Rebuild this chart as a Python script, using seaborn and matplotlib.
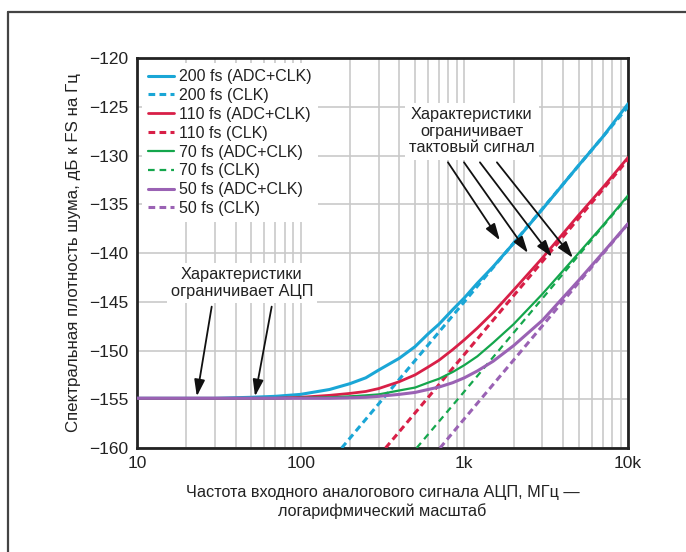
import numpy as np
import pandas as pd
import matplotlib
matplotlib.use('Agg')
import matplotlib.pyplot as plt
import seaborn as sns
from matplotlib.lines import Line2D
from matplotlib.ticker import FixedLocator, NullFormatter

# --- data (MHz, dBFS/Hz) ---
freq = [10, 20, 30, 50, 70, 100, 150, 200, 250, 300, 400, 500, 600, 700, 850, 1000, 1200,
        1500, 2000, 3000, 5000, 7000, 10000]

adc_clk_200 = [-154.9, -154.9, -154.9, -154.8, -154.7, -154.5, -154.0, -153.4, -152.8, -152.0, -150.8,
               -149.6, -148.3, -147.3, -145.8, -144.6, -143.1, -141.4, -139.0, -135.5, -131.0,
               -128.1, -124.7]
adc_clk_110 = [-154.9, -154.9, -154.9, -154.9, -154.9, -154.8, -154.6, -154.4, -154.2, -153.9, -153.2,
               -152.5, -151.7, -151.0, -149.9, -148.9, -147.7, -146.1, -143.8, -140.5, -136.1,
               -133.3, -130.2]
adc_clk_70 = [-154.9, -154.9, -154.9, -154.9, -154.9, -154.85, -154.8, -154.7, -154.6, -154.5, -154.1,
              -153.8, -153.3, -152.9, -152.2, -151.5, -150.6, -149.2, -147.3, -144.2, -140.0,
              -137.2, -134.1]
adc_clk_50 = [-154.9, -154.9, -154.9, -154.9, -154.9, -154.9, -154.9, -154.85, -154.8, -154.7, -154.5,
              -154.3, -154.0, -153.75, -153.3, -152.8, -152.1, -151.1, -149.5, -146.9, -142.8,
              -140.0, -137.0]

clk_200_f = [178, 1000, 10000]
clk_200 = [-160.0, -145.0, -125.0]
clk_110_f = [330, 1000, 10000]
clk_110 = [-160.0, -150.4, -130.4]
clk_70_f = [511, 1000, 10000]
clk_70 = [-160.0, -154.2, -134.2]
clk_50_f = [710, 1000, 10000]
clk_50 = [-160.0, -157.0, -137.0]

x_ticks = [10, 100, 1000, 10000]
x_tick_labels = ['10', '100', '1k', '10k']
y_ticks = [-120, -125, -130, -135, -140, -145, -150, -155, -160]

BLUE = '#1aa6d6'
RED = '#d81f47'
GREEN = '#14a64c'
PURPLE = '#9a62b4'

sns.set_style('white')
plt.rcParams['font.family'] = ['Liberation Sans', 'DejaVu Sans']

fig = plt.figure(figsize=(6.86, 5.52), dpi=100)
ax = fig.add_axes([0.1997, 0.1884, 0.7158, 0.7065])

series = [
    (freq, adc_clk_200, BLUE, '-', 2.2, '200 fs (ADC+CLK)'),
    (clk_200_f, clk_200, BLUE, (0, (2.2, 1.4)), 2.2, '200 fs (CLK)'),
    (freq, adc_clk_110, RED, '-', 2.0, '110 fs (ADC+CLK)'),
    (clk_110_f, clk_110, RED, (0, (2.2, 1.4)), 2.2, '110 fs (CLK)'),
    (freq, adc_clk_70, GREEN, '-', 1.6, '70 fs (ADC+CLK)'),
    (clk_70_f, clk_70, GREEN, (0, (3.0, 2.2)), 1.6, '70 fs (CLK)'),
    (freq, adc_clk_50, PURPLE, '-', 2.2, '50 fs (ADC+CLK)'),
    (clk_50_f, clk_50, PURPLE, (0, (2.2, 1.4)), 2.2, '50 fs (CLK)'),
]

for xs, ys, col, ls, lw, lab in series:
    d = pd.DataFrame({'f': xs, 'n': ys})
    sns.lineplot(data=d, x='f', y='n', ax=ax, color=col, linestyle=ls, linewidth=lw,
                 label=lab, estimator=None, sort=True, zorder=3)

ax.set_xscale('log')
ax.set_xlim(10, 10000)
ax.set_ylim(-160, -120)
ax.xaxis.set_major_locator(FixedLocator(x_ticks))
ax.set_xticklabels(x_tick_labels)
ax.xaxis.set_minor_locator(FixedLocator([m * d for d in [10, 100, 1000] for m in range(2, 10)]))
ax.xaxis.set_minor_formatter(NullFormatter())
ax.set_yticks(y_ticks)
ax.grid(True, which='major', color='#c9c9c9', linewidth=1.2)
ax.grid(True, which='minor', axis='x', color='#c9c9c9', linewidth=1.2)
ax.set_axisbelow(True)
ax.tick_params(axis='both', which='both', length=0, labelsize=12.5, pad=6, colors='#222222')
for s in ax.spines.values():
    s.set_color('#222222')
    s.set_linewidth(2)
    s.set_visible(True)

ax.set_xlabel('Частота входного аналогового сигнала АЦП, МГц —\nлогарифмический масштаб',
              fontsize=11.7, color='#222222', labelpad=10, linespacing=1.25)
ax.set_ylabel('Спектральная плотность шума, дБ к FS на Гц', fontsize=12.2, color='#222222', labelpad=6)

leg = ax.legend(loc='upper left', bbox_to_anchor=(0.0, 1.0), fontsize=11.5, frameon=True,
                fancybox=False, framealpha=1, edgecolor='none', facecolor='white',
                handlelength=1.6, handletextpad=0.35, labelspacing=0.24, borderpad=0.4,
                borderaxespad=0.3)
leg.set_zorder(5)
for t in leg.get_texts():
    t.set_color('#222222')

box = dict(facecolor='white', edgecolor='none', pad=3)
arrow = dict(arrowstyle='-|>,head_length=1.0,head_width=0.32', color='#111111', lw=1.3,
             shrinkA=0, shrinkB=0)

ax.text(1112, -127.5, 'Характеристики\nограничивает\nтактовый сигнал', ha='center', va='center',
        fontsize=11.8, color='#222222', bbox=box, zorder=6, linespacing=1.15)
for start, head in [((794, -130.7), (1648, -138.7)), ((995, -130.7), (2447, -140.0)),
                    ((1245, -130.7), (3427, -140.4)), ((1581, -130.7), (4603, -140.5))]:
    ax.annotate('', xy=head, xytext=start, arrowprops=arrow, zorder=6)

ax.text(43.7, -143.1, 'Характеристики\nограничивает АЦП', ha='center', va='center',
        fontsize=11.8, color='#222222', bbox=box, zorder=6, linespacing=1.15)
for start, head in [((28.6, -145.5), (23.2, -154.7)), ((66.5, -145.5), (52.6, -154.7))]:
    ax.annotate('', xy=head, xytext=start, arrowprops=arrow, zorder=6)

# partial outer frame
fig.add_artist(Line2D([8 / 686, 1.0], [1 - 12 / 552, 1 - 12 / 552], color='#444444', lw=1.6,
                      transform=fig.transFigure))
fig.add_artist(Line2D([8 / 686, 8 / 686], [0, 1 - 12 / 552], color='#444444', lw=1.6,
                      transform=fig.transFigure))

fig.savefig('out.png', dpi=100)
